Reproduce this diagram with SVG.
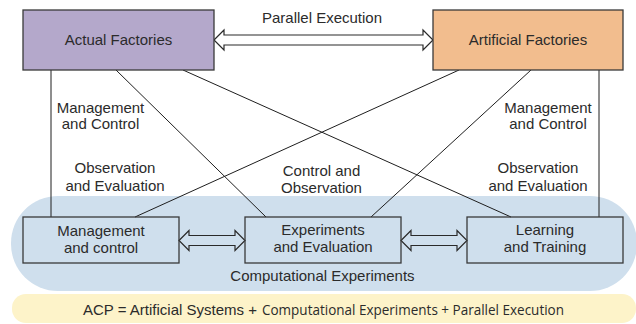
<svg xmlns="http://www.w3.org/2000/svg" width="636" height="324" viewBox="0 0 636 324">
<style>
text{font-family:"Liberation Sans",Arial,sans-serif;font-size:15px;fill:#2b2b2b;text-anchor:middle}
.box{stroke:#3a3a3a;stroke-width:1.3}
.ln{stroke:#1e1e1e;stroke-width:1;fill:none}
.arr{stroke:#2a2a2a;stroke-width:1.2;stroke-linejoin:miter}
</style>
<rect id="bg-computational" x="11" y="196" width="626" height="95" rx="47" ry="47" fill="#cfdfed"/>
<rect id="bg-acp" x="12" y="294" width="624" height="29" rx="14" ry="14" fill="#fdf3c9"/>
<g id="connectors">
<line class="ln" x1="51" y1="70" x2="51" y2="217"/>
<line class="ln" x1="116" y1="70" x2="266" y2="217"/>
<line class="ln" x1="183" y1="70" x2="511" y2="217"/>
<line class="ln" x1="459" y1="70" x2="135" y2="217"/>
<line class="ln" x1="531" y1="70" x2="371" y2="217"/>
<line class="ln" x1="599" y1="70" x2="599" y2="217"/>
<path class="arr" fill="#ffffff" d="M214,40 L224,30 L224,35 L423,35 L423,30 L433,40 L423,50 L423,45 L224,45 L224,50 Z"/>
<path class="arr" fill="#cfdfed" d="M179,240.5 L189,230.5 L189,235.5 L235,235.5 L235,230.5 L245,240.5 L235,250.5 L235,245.5 L189,245.5 L189,250.5 Z"/>
<path class="arr" fill="#cfdfed" d="M401,240.5 L411,230.5 L411,235.5 L457,235.5 L457,230.5 L467,240.5 L457,250.5 L457,245.5 L411,245.5 L411,250.5 Z"/>
<text x="322" y="23">Parallel Execution</text>
<text x="100.5" y="113">Management</text>
<text x="100.5" y="129">and Control</text>
<text x="115" y="173">Observation</text>
<text x="115" y="191">and Evaluation</text>
<text x="321.5" y="176">Control and</text>
<text x="321.5" y="193">Observation</text>
<text x="548" y="113">Management</text>
<text x="548" y="129">and Control</text>
<text x="538" y="173">Observation</text>
<text x="538" y="191">and Evaluation</text>
</g>
<g id="actual-factories">
<rect class="box" x="23" y="10" width="191" height="60" fill="#b4a8cb"/>
<text x="118.5" y="45">Actual Factories</text>
</g>
<g id="artificial-factories">
<rect class="box" x="433" y="10" width="190" height="60" fill="#f2bd8e"/>
<text x="528" y="45">Artificial Factories</text>
</g>
<g id="management-control">
<rect class="box" x="23" y="217" width="156" height="46" fill="none"/>
<text x="101" y="236">Management</text>
<text x="101" y="253">and control</text>
</g>
<g id="experiments-evaluation">
<rect class="box" x="245" y="217" width="156" height="46" fill="none"/>
<text x="323" y="235">Experiments</text>
<text x="323" y="252">and Evaluation</text>
</g>
<g id="learning-training">
<rect class="box" x="467" y="217" width="156" height="46" fill="none"/>
<text x="545" y="235">Learning</text>
<text x="545" y="252">and Training</text>
</g>
<g id="computational-experiments-label">
<text x="322.5" y="281">Computational Experiments</text>
</g>
<g id="acp-label">
<text x="83" y="315" style="text-anchor:start">ACP = Artificial Systems +<tspan x="262" style="font-family:'Open Sans','Noto Sans',sans-serif;font-size:14px" textLength="302" lengthAdjust="spacingAndGlyphs">Computational Experiments + Parallel Execution</tspan></text>
</g>
</svg>
